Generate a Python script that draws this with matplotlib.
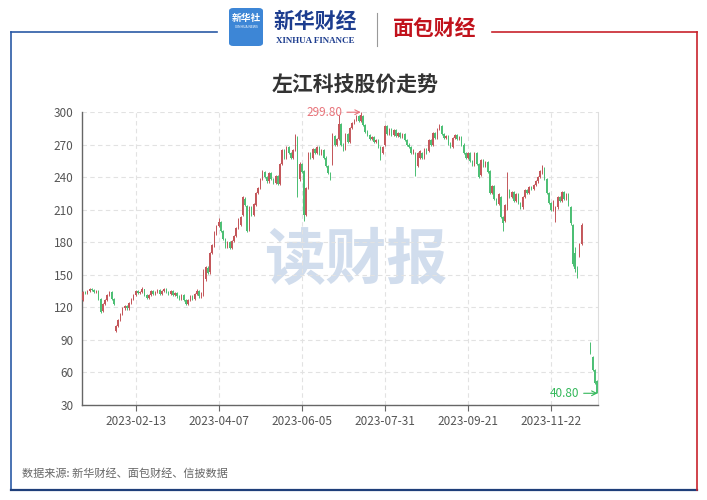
import numpy as np
import pandas as pd
import matplotlib
matplotlib.use('Agg')
import matplotlib.pyplot as plt
from matplotlib.patches import FancyBboxPatch
from matplotlib.lines import Line2D

plt.rcParams['font.family'] = ['Noto Sans CJK SC', 'DejaVu Sans']

# 交易日(2023, 剔除节假日)
holidays = ['2023-01-23', '2023-01-24', '2023-01-25', '2023-01-26', '2023-01-27',
            '2023-04-05', '2023-05-01', '2023-05-02', '2023-05-03',
            '2023-06-22', '2023-06-23', '2023-09-29',
            '2023-10-02', '2023-10-03', '2023-10-04', '2023-10-05', '2023-10-06']
dates = pd.bdate_range('2023-01-03', '2023-12-21')
dates = dates[~dates.isin(pd.to_datetime(holidays))]

nan = np.nan
opens = [127, 134, 133, 135, 137, 136, 134, 135, 128, 117,
         123, 127, 131, 134, 128, 98, 103, 108, 114, 119,
         121, 119, 124, 128, 131, 135, 133, 134, 137, 131,
         129, 131, 135, 132, 134, 136, 132, 135, 137, 134,
         132, 135, 131, 133, 130, 128, 131, 127, 123, 127,
         130, 128, 132, 135, 130, 131, 146, 156, 153, 170,
         177, 188, 195, 199, 190, 183, 176, 180, 175, 181,
         186, 193, 196, 205, 220, 213, 192, 212, 205, 214,
         225, 230, 238, 245, 240, 236, 244, 238, 235, 241,
         234, 252, 265, 258, 268, 262, 258, 265, 276, 238,
         252, 246, 205, 230, 262, 258, 266, 262, 268, 261,
         265, 258, 250, 244, 252, 278, 270, 275, 289, 270,
         266, 280, 272, 285, 290, 293, 296, 292, 296, 288,
         282, 279, 275, 277, 272, 274, 268, 262, 270, 287,
         280, 284, 279, 283, 278, 281, 277, 280, 274, 270,
         268, 262, 262, 250, 258, 262, 258, 266, 264, 274,
         270, 281, 276, 284, 287, 280, 276, 278, 271, 268,
         276, 279, 275, 277, 270, 262, 258, 262, 255, 251,
         262, 252, 242, 256, 250, 254, 246, 225, 232, 220,
         215, 222, 203, 200, 213, 228, 222, 226, 218, 224,
         216, 212, 222, 228, 225, 231, 229, 233, 236, 240,
         244, 248, 238, 225, 216, 210, 205, 212, 222, 218,
         226, 220, 224, 212, 196, 170, 155, 167, 178, nan,
         nan, nan, 87, 74, 62, 52]
closes = [134, 133, 135, 137, 136, 134, 135, 128, 116, 123,
          127, 131, 134, 128, 123, 103, 108, 114, 119, 121,
          119, 124, 128, 131, 135, 133, 134, 137, 131, 129,
          131, 135, 132, 134, 136, 132, 135, 137, 134, 132,
          135, 131, 133, 130, 128, 131, 127, 123, 127, 130,
          128, 132, 135, 130, 133, 153, 157, 152, 170, 177,
          189, 195, 199, 190, 183, 176, 180, 175, 181, 186,
          193, 201, 203, 222, 214, 190, 212, 205, 215, 225,
          230, 238, 245, 240, 236, 244, 238, 235, 241, 234,
          252, 265, 258, 268, 262, 258, 265, 278, 224, 252,
          245, 205, 230, 262, 258, 266, 262, 268, 261, 265,
          258, 250, 244, 238, 280, 270, 275, 289, 270, 266,
          280, 272, 285, 290, 293, 296, 292, 297, 288, 282,
          279, 275, 277, 272, 274, 268, 258, 268, 287, 280,
          284, 279, 283, 278, 281, 277, 280, 274, 270, 268,
          262, 265, 245, 262, 264, 258, 266, 262, 274, 270,
          281, 276, 284, 287, 280, 276, 278, 271, 268, 276,
          279, 275, 277, 270, 262, 258, 262, 255, 251, 262,
          252, 240, 256, 250, 254, 245, 225, 232, 220, 215,
          224, 203, 198, 214, 228, 222, 226, 218, 224, 216,
          212, 222, 228, 225, 231, 229, 233, 236, 240, 246,
          250, 238, 225, 216, 210, 218, 212, 222, 218, 226,
          220, 224, 214, 198, 160, 155, 150, 178, 196, nan,
          nan, nan, 78, 62, 50, 41]
highs = [135, 135, 136, 138, 138, 137, 136, 136, 129, 124,
         128, 132, 135, 135, 129, 104, 109, 115, 120, 122,
         122, 125, 129, 132, 136, 136, 135, 139, 137, 132,
         132, 136, 136, 135, 137, 137, 136, 138, 138, 135,
         136, 136, 134, 134, 131, 132, 132, 128, 128, 131,
         131, 133, 137, 136, 134, 155, 158, 158, 171, 178,
         190, 196, 202, 200, 191, 184, 181, 181, 182, 187,
         194, 202, 204, 223, 222, 214, 213, 213, 216, 226,
         231, 239, 247, 246, 241, 245, 245, 239, 242, 242,
         253, 266, 266, 269, 269, 263, 266, 280, 278, 254,
         253, 247, 231, 263, 263, 267, 267, 269, 269, 266,
         266, 259, 251, 245, 281, 279, 276, 297, 290, 271,
         281, 281, 286, 291, 294, 297, 297, 299.8, 297, 289,
         283, 280, 278, 278, 275, 275, 269, 269, 288, 288,
         285, 285, 284, 284, 282, 282, 281, 281, 275, 271,
         269, 266, 263, 263, 265, 263, 267, 267, 275, 275,
         282, 282, 285, 289, 288, 281, 279, 279, 272, 277,
         280, 280, 278, 278, 271, 263, 263, 263, 256, 263,
         263, 253, 257, 257, 255, 255, 247, 233, 233, 221,
         225, 223, 204, 215, 245, 229, 227, 227, 225, 225,
         217, 223, 229, 229, 232, 232, 234, 237, 241, 247,
         251, 249, 239, 226, 217, 219, 213, 223, 223, 227,
         227, 225, 225, 213, 197, 176, 158, 179, 198, nan,
         nan, nan, 88, 75, 63, 53]
lows = [126, 132, 132, 134, 135, 133, 133, 127, 115, 116,
        122, 126, 130, 127, 122, 97, 102, 107, 113, 118,
        118, 118, 123, 127, 130, 132, 132, 133, 130, 128,
        128, 130, 131, 131, 133, 131, 131, 134, 133, 131,
        131, 130, 130, 129, 127, 127, 126, 122, 122, 126,
        127, 127, 131, 129, 129, 130, 144, 151, 151, 169,
        176, 187, 194, 189, 182, 175, 175, 174, 174, 180,
        185, 192, 195, 204, 213, 189, 190, 204, 204, 213,
        224, 229, 237, 239, 235, 235, 237, 234, 234, 233,
        233, 251, 257, 257, 261, 257, 257, 264, 222, 236,
        244, 200, 204, 229, 257, 257, 261, 261, 260, 260,
        257, 249, 243, 237, 251, 269, 269, 274, 269, 264,
        265, 271, 271, 284, 289, 292, 291, 291, 287, 281,
        278, 274, 274, 271, 271, 267, 256, 261, 269, 279,
        279, 278, 278, 277, 277, 276, 276, 273, 269, 267,
        261, 261, 241, 249, 257, 257, 257, 261, 263, 269,
        269, 275, 275, 283, 279, 275, 275, 270, 267, 267,
        275, 274, 274, 269, 261, 257, 257, 254, 250, 250,
        251, 239, 241, 249, 249, 244, 224, 224, 219, 214,
        214, 202, 190, 199, 210, 221, 221, 217, 217, 215,
        211, 211, 221, 224, 224, 228, 228, 232, 235, 239,
        243, 237, 224, 215, 209, 209, 199, 211, 217, 217,
        219, 219, 213, 196, 158, 153, 147, 166, 177, nan,
        nan, nan, 77, 61, 49, 40.8]

xtick_idx = [24, 62, 100, 138, 176, 214]
yticks = [30, 60, 90, 120, 150, 180, 210, 240, 270, 300]

up_c = '#c4575b'
down_c = '#4cbf74'

W, H = 707, 500
fig = plt.figure(figsize=(W / 100, H / 100), dpi=100)

def fx(px):
    return px / W

def fy(py):
    return 1 - py / H

# 外框
blue = '#2b5aa6'
red = '#c8232c'
fig.add_artist(Line2D([fx(11), fx(217)], [fy(32), fy(32)], color=blue, lw=1.2))
fig.add_artist(Line2D([fx(11), fx(11)], [fy(32), fy(490)], color=blue, lw=1.2))
fig.add_artist(Line2D([fx(11), fx(697)], [fy(490), fy(490)], color='#1f3f7a', lw=1.6))
fig.add_artist(Line2D([fx(492), fx(697)], [fy(32), fy(32)], color=red, lw=1.2))
fig.add_artist(Line2D([fx(697), fx(697)], [fy(32), fy(490)], color=red, lw=1.2))

# 顶部标识
icon = FancyBboxPatch((fx(229), fy(46)), fx(34), 38 / H, boxstyle='round,pad=0,rounding_size=0.006',
                      transform=fig.transFigure, facecolor='#3d86d6', edgecolor='none')
fig.add_artist(icon)
fig.text(fx(246), fy(18), '新华社', color='white', fontsize=7, ha='center', va='center', weight='bold')
fig.text(fx(246), fy(27), 'XINHUA NEWS', color='white', fontsize=2.5, ha='center', va='center')
fig.text(fx(315), fy(21), '新华财经', color='#1d3d8f', fontsize=15, ha='center', va='center',
         weight='bold', style='italic')
fig.text(fx(315), fy(41), 'XINHUA FINANCE', color='#1d3d8f', fontsize=6.5, ha='center', va='center',
         family='Liberation Serif', weight='bold')
fig.add_artist(Line2D([fx(377), fx(377)], [fy(13), fy(46)], color='#999999', lw=0.8))
fig.text(fx(435), fy(28), '面包财经', color='#c1121c', fontsize=15, ha='center', va='center', weight='bold')

# 标题
fig.text(fx(355), fy(85), '左江科技股价走势', fontsize=15, weight='bold', color='#333333',
         ha='center', va='center')

ax = fig.add_axes([fx(82), fy(405), fx(598 - 82), (405 - 112) / H])
x = np.arange(len(dates))
o = np.array(opens, dtype=float)
c = np.array(closes, dtype=float)
h = np.array(highs, dtype=float)
l = np.array(lows, dtype=float)
cols = np.where(c >= o, up_c, down_c)
ok = ~np.isnan(c)
ax.vlines(x[ok], l[ok], h[ok], colors=cols[ok], lw=0.7, zorder=3)
body = np.abs(c - o)
body = np.where(body < 0.6, 0.6, body)
ax.bar(x[ok], body[ok], bottom=np.minimum(o, c)[ok], width=0.6, color=cols[ok], lw=0, zorder=3)

ax.set_xlim(-0.5, len(dates) - 0.5)
ax.set_ylim(30, 300)
ax.set_yticks(yticks)
ax.set_xticks(xtick_idx)
ax.set_xticklabels([dates[i].strftime('%Y-%m-%d') for i in xtick_idx])
ax.tick_params(axis='y', length=0, pad=6, labelsize=8.5, labelcolor='#555555')
ax.tick_params(axis='x', length=4, width=0.8, color='#666666', pad=3, labelsize=8.5, labelcolor='#555555')
ax.grid(True, ls=(0, (4, 3)), color='#e2e2e2', lw=0.8, zorder=0)
for s in ['top']:
    ax.spines[s].set_visible(False)
ax.spines['right'].set_color('#dddddd')
ax.spines['left'].set_color('#666666')
ax.spines['bottom'].set_color('#666666')
ax.spines['left'].set_linewidth(1.0)
ax.spines['bottom'].set_linewidth(1.0)

# 水印
ax.text(0.53, 0.49, '读财报', transform=ax.transAxes, fontsize=44, weight='bold',
        color='#c9d7ea', alpha=0.85, ha='center', va='center', zorder=1)

# 最高/最低标注
imax = int(np.nanargmax(h))
imin = int(np.nanargmin(l))
ax.annotate(f'{h[imax]:.2f}', xy=(imax, h[imax]), xytext=(-13, 0), textcoords='offset points',
            ha='right', va='center', color='#e8737a', fontsize=8.5,
            arrowprops=dict(arrowstyle='->', color='#e8737a', lw=0.8, shrinkA=1, shrinkB=0))
ax.annotate(f'{l[imin]:.2f}', xy=(imin + 0.3, l[imin]), xytext=(-13, 0), textcoords='offset points',
            ha='right', va='center', color='#33b85a', fontsize=8.5,
            arrowprops=dict(arrowstyle='->', color='#33b85a', lw=0.8, shrinkA=1, shrinkB=0))

fig.text(fx(22), fy(474), '数据来源: 新华财经、面包财经、信披数据', fontsize=8, color='#666666',
         ha='left', va='center')

fig.savefig('out.png', dpi=100)
